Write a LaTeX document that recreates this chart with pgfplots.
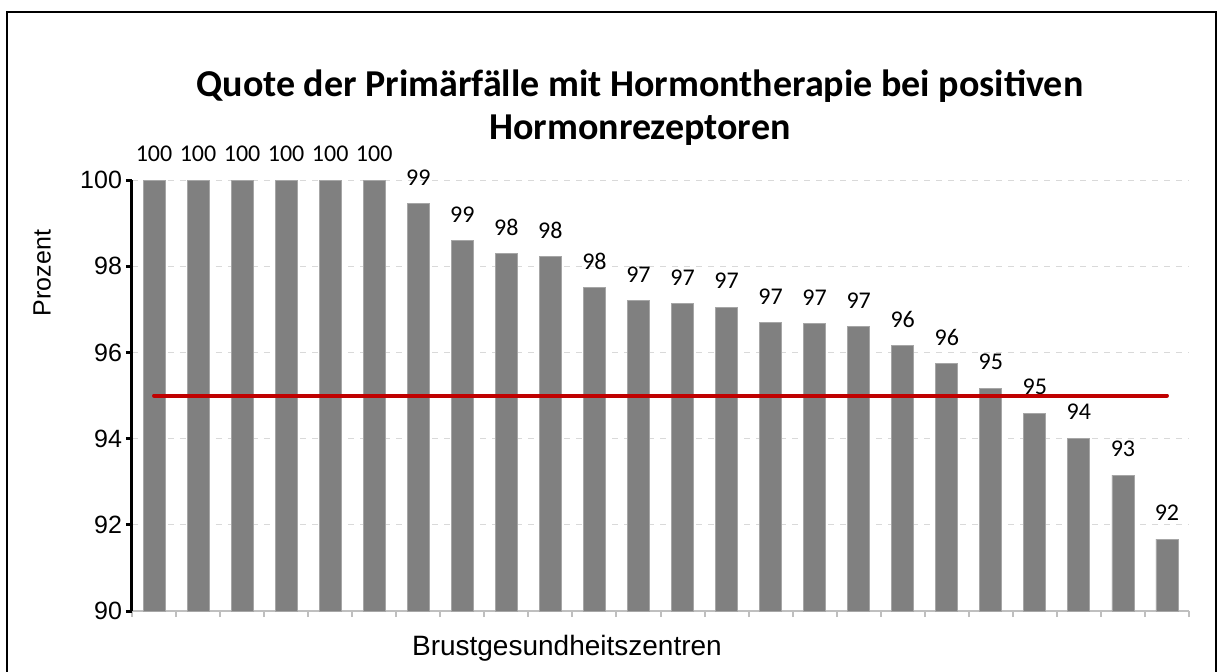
\documentclass[border=0pt]{standalone}
\usepackage{pgfplots}
\pgfplotsset{compat=1.18}
\usepackage{fontspec}
\setmainfont{Liberation Sans}
\newfontfamily\carlito{Carlito}
\definecolor{bargray}{HTML}{808080}
\definecolor{baredge}{HTML}{A6A6A6}
\definecolor{gridgray}{HTML}{D9D9D9}
\definecolor{axgray}{HTML}{BFBFBF}
\definecolor{refred}{HTML}{C00000}
\begin{document}
\begin{tikzpicture}
\begin{axis}[
  at={(66pt,30pt)}, anchor=south west,
  scale only axis, width=528.5pt, height=215.5pt,
  xmin=-0.5, xmax=23.5, ymin=90, ymax=100,
  axis x line*=bottom, axis y line*=left,
  x axis line style={-, axgray, line width=1pt},
  y axis line style={-, black, line width=1.5pt},
  xtick={-0.5,0.5,...,23.5}, xticklabels={},
  x tick style={axgray, line width=1pt},
  ytick={90,92,...,100},
  y tick style={black, line width=1.5pt},
  tick align=outside, major tick length=3pt,
  ymajorgrids, major grid style={gridgray, dashed, line width=0.5pt},
  clip mode=individual,
  /pgf/number format/assume math mode=true,
  yticklabel style={font=\fontsize{12.5pt}{14pt}\selectfont, xshift=1.5pt},
  xlabel={Brustgesundheitszentren},
  xlabel style={at={(axis description cs:0.4115,-0.086)}, anchor=center, font=\fontsize{14pt}{16pt}\selectfont},
  ylabel={Prozent},
  ylabel style={at={(axis description cs:-0.085,0.784)}, anchor=center, font=\fontsize{12.5pt}{14pt}\selectfont},
]
\addplot[ybar, bar width=11pt, fill=bargray, draw=baredge, line width=0.4pt,
  nodes near coords={\pgfmathprintnumber[fixed,precision=0]{\pgfplotspointmeta}},
  every node near coord/.append style={font=\carlito\fontsize{12pt}{14pt}\selectfont, black, anchor=center, yshift=13pt}]
  coordinates {
  (0,100) (1,100) (2,100) (3,100) (4,100) (5,100)
  (6,99.45) (7,98.59) (8,98.30) (9,98.22) (10,97.50) (11,97.21)
  (12,97.13) (13,97.05) (14,96.70) (15,96.67) (16,96.60) (17,96.16)
  (18,95.75) (19,95.17) (20,94.59) (21,94.01) (22,93.15) (23,91.67)
  };
\addplot[refred, line width=2pt, line cap=round, sharp plot] coordinates {(0,95) (23,95)};
\end{axis}
\node[font=\carlito\bfseries\fontsize{19pt}{21.5pt}\selectfont, align=center, inner sep=0pt] at (320pt,281.5pt) {Quote der Primärfälle mit Hormontherapie bei positiven\\Hormonrezeptoren};
\draw[line width=1pt] (3.5pt,-5pt) rectangle (608pt,329.5pt);
\pgfresetboundingbox
\useasboundingbox (0,0) rectangle (611pt,335.5pt);
\end{tikzpicture}
\end{document}
